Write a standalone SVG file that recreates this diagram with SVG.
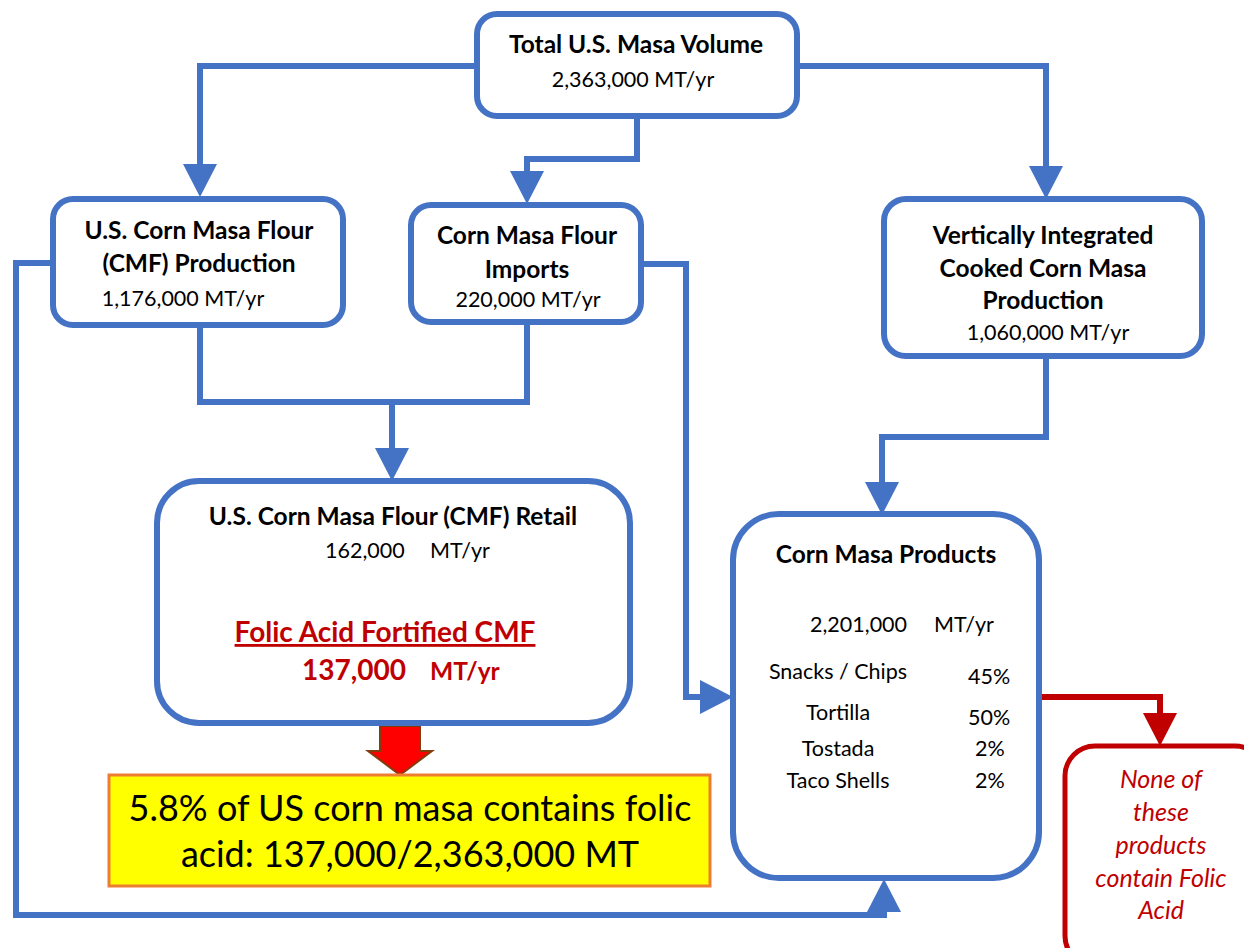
<svg xmlns="http://www.w3.org/2000/svg" width="1244" height="948" viewBox="0 0 1244 948">
<style>
.box{fill:#fff;stroke:#4472C4;stroke-width:6}
.con{fill:none;stroke:#4472C4;stroke-width:6}
.rcon{fill:none;stroke:#C00000;stroke-width:6}
text{font-family:Lato,"Liberation Sans",sans-serif;fill:#000}
.t{font-weight:bold;font-size:24.5px;text-anchor:middle}
.v{font-size:21.5px}
.c{text-anchor:middle}
.red{fill:#C00000}
</style>
<defs>
<marker id="ah" markerUnits="userSpaceOnUse" markerWidth="34" markerHeight="36" refX="0" refY="17" orient="auto" overflow="visible">
<path d="M0,0 L33,17 L0,34 z" fill="#4472C4"/>
</marker>
<marker id="rah" markerUnits="userSpaceOnUse" markerWidth="34" markerHeight="36" refX="0" refY="17" orient="auto" overflow="visible">
<path d="M0,0 L33,17 L0,34 z" fill="#C00000"/>
</marker>
</defs>
<rect width="1244" height="948" fill="#fff"/>
<g id="connectors">
<path class="con" d="M477,66 H200 V164" marker-end="url(#ah)"/>
<path class="con" d="M637,116 V159 H527 V171" marker-end="url(#ah)"/>
<path class="con" d="M797,66 H1046 V166" marker-end="url(#ah)"/>
<path class="con" d="M200,325 V402 H527 V322"/>
<path class="con" d="M392,402 V448" marker-end="url(#ah)"/>
<path class="con" d="M1046,356 V437 H882 V482" marker-end="url(#ah)"/>
<path class="con" d="M641,264 H686 V697 H700" marker-end="url(#ah)"/>
<path class="con" d="M53,263 H16 V915 H884 V912" marker-end="url(#ah)"/>
<path class="rcon" d="M1039,697 H1160 V713" marker-end="url(#rah)"/>
<polygon points="380,726 420,726 420,751 432,751 400,775 368,751 380,751" fill="#FF0000" stroke="#843C0C" stroke-width="2"/>
</g>
<g id="total">
<rect class="box" x="477" y="14" width="320" height="102" rx="20"/>
<text class="t" x="636" y="53">Total U.S. Masa Volume</text>
<text class="v c" x="633" y="87">2,363,000 MT/yr</text>
</g>
<g id="cmf-production">
<rect class="box" x="53" y="199" width="290" height="126" rx="20"/>
<text class="t" x="199" y="239">U.S. Corn Masa Flour</text>
<text class="t" x="199" y="272">(CMF) Production</text>
<text class="v c" x="183" y="306">1,176,000 MT/yr</text>
</g>
<g id="imports">
<rect class="box" x="411" y="205" width="230" height="117" rx="20"/>
<text class="t" x="527" y="244">Corn Masa Flour</text>
<text class="t" x="527" y="278">Imports</text>
<text class="v c" x="528" y="307">220,000 MT/yr</text>
</g>
<g id="vertical">
<rect class="box" x="884" y="199" width="318" height="157" rx="22"/>
<text class="t" x="1043" y="244">Vertically Integrated</text>
<text class="t" x="1043" y="277">Cooked Corn Masa</text>
<text class="t" x="1043" y="309">Production</text>
<text class="v c" x="1048" y="340">1,060,000 MT/yr</text>
</g>
<g id="retail">
<rect class="box" x="157" y="481" width="473" height="242" rx="42"/>
<text class="t" x="393" y="525">U.S. Corn Masa Flour (CMF) Retail</text>
<text class="v" x="325" y="558">162,000</text>
<text class="v" x="430" y="558">MT/yr</text>
<text class="t red" x="385" y="642" style="font-size:28px" text-decoration="underline">Folic Acid Fortified CMF</text>
<text class="red" x="302" y="680" font-weight="bold" font-size="28">137,000</text>
<text class="red" x="430" y="680" font-weight="bold" font-size="24.5">MT/yr</text>
</g>
<g id="products">
<rect class="box" x="733" y="514" width="306" height="364" rx="46"/>
<text class="t" x="886" y="563">Corn Masa Products</text>
<text class="v" x="810" y="632">2,201,000</text>
<text class="v" x="934" y="632">MT/yr</text>
<text class="v c" x="838" y="679">Snacks / Chips</text>
<text class="v" x="968" y="684">45%</text>
<text class="v c" x="838" y="720">Tortilla</text>
<text class="v" x="968" y="725">50%</text>
<text class="v c" x="838" y="756">Tostada</text>
<text class="v" x="975" y="756">2%</text>
<text class="v c" x="838" y="788">Taco Shells</text>
<text class="v" x="975" y="788">2%</text>
</g>
<g id="none">
<rect x="1065" y="746" width="200" height="220" rx="30" fill="#fff" stroke="#C00000" stroke-width="5"/>
<g font-style="italic" font-size="25" text-anchor="middle">
<text class="red" x="1161" y="788">None of</text>
<text class="red" x="1161" y="821">these</text>
<text class="red" x="1161" y="854">products</text>
<text class="red" x="1161" y="887">contain Folic</text>
<text class="red" x="1161" y="919">Acid</text>
</g>
</g>
<g id="summary">
<rect x="109" y="775" width="601" height="111" fill="#FFFF00" stroke="#ED7D31" stroke-width="3"/>
<text class="c" x="410" y="821" font-size="36">5.8% of US corn masa contains folic</text>
<text class="c" x="410" y="867" font-size="36">acid: 137,000/2,363,000 MT</text>
</g>
</svg>
